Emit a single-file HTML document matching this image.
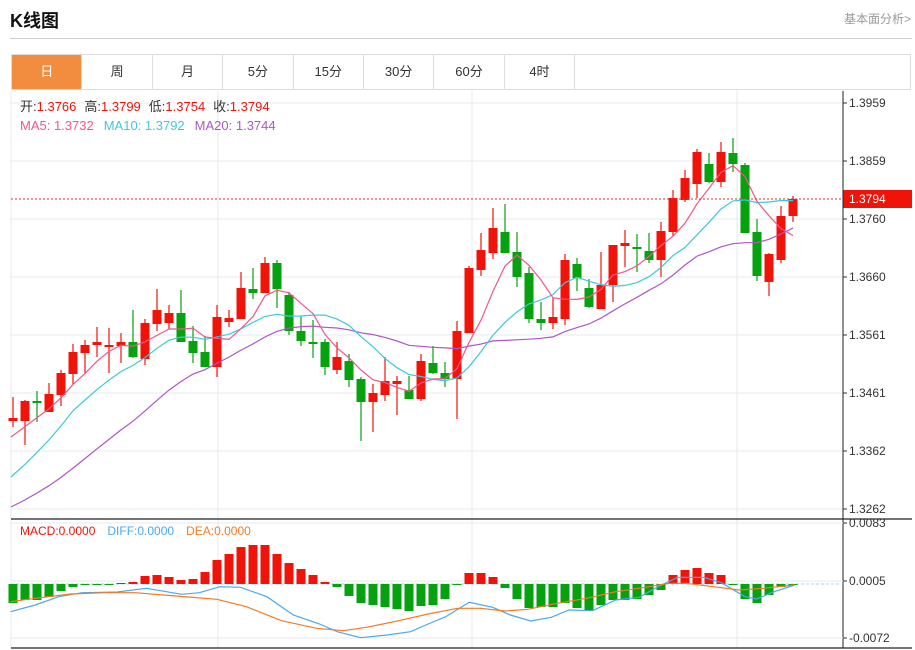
<!DOCTYPE html>
<html><head><meta charset="utf-8">
<style>
body{margin:0;background:#fff;width:915px;height:650px;overflow:hidden;font-family:"Liberation Sans","Noto Sans CJK SC",sans-serif;}
#wrap{position:relative;width:915px;height:650px;}
.title{position:absolute;left:10px;top:7px;font-size:18px;font-weight:bold;color:#111;}
.more{position:absolute;right:4px;top:10px;font-size:12px;color:#999;}
.hr{position:absolute;left:10px;top:38px;width:902px;height:1px;background:#ccc;}
.tabs{position:absolute;left:11px;top:54px;width:900px;height:36px;border:1px solid #ddd;box-sizing:border-box;display:flex;}
.tab{width:70.4px;height:34px;border-right:1px solid #ddd;box-sizing:border-box;text-align:center;line-height:34px;font-size:13px;color:#333;}
.tab.on{background:#f28c3f;color:#fff;}
svg{position:absolute;left:0;top:0;}
</style></head><body><div id="wrap">
<div class="title">K线图</div>
<div class="more">基本面分析&gt;</div>
<div class="hr"></div>
<div class="tabs"><div class="tab on">日</div><div class="tab">周</div><div class="tab">月</div><div class="tab">5分</div><div class="tab">15分</div><div class="tab">30分</div><div class="tab">60分</div><div class="tab">4时</div></div>
<svg id="s" width="915" height="650" xmlns="http://www.w3.org/2000/svg"></svg>
</div>
<script>
var S=document.getElementById('s'),h='';
function L(x1,y1,x2,y2,c,w,d){h+='<line x1="'+x1+'" y1="'+y1+'" x2="'+x2+'" y2="'+y2+'" stroke="'+c+'" stroke-width="'+(w||1)+'"'+(d?' stroke-dasharray="'+d+'"':'')+'/>';}
function T(x,y,t,c,s,a){h+='<text x="'+x+'" y="'+y+'" fill="'+c+'" font-size="'+(s||12)+'" font-family="Liberation Sans, Noto Sans CJK SC, sans-serif"'+(a?' text-anchor="'+a+'"':'')+'>'+t+'</text>';}
function P(pts,c,w){h+='<polyline fill="none" stroke="'+c+'" stroke-width="'+(w||1.2)+'" points="'+pts.map(function(p){return p[0].toFixed(1)+','+p[1].toFixed(1)}).join(' ')+'"/>';}
var ticks=[[103,'1.3959'],[161,'1.3859'],[219,'1.3760'],[277,'1.3660'],[335,'1.3561'],[393,'1.3461'],[451,'1.3362'],[509,'1.3262']];
ticks.forEach(function(t){L(11,t[0],843,t[0],'#e6ebf0');L(843,t[0],847,t[0],'#333');T(849,t[0]+4,t[1],'#333',12);});
[218,472,737].forEach(function(x){L(x,91,x,648,'#e6ebf0');});
L(11,91,11,648,'#e6ebf0');
var K=[[421,418,397,427],[421,401,400,445],[401,403,391,422],[412,394,383,412],[395,373,370,406],[374,352,344,384],[353,345,340,373],[345,342,327,357],[347,345,328,373],[346,342,333,363],[342,357,310,358],[359,323,319,365],[324,310,289,331],[323,313,305,329],[313,342,290,342],[341,353,326,363],[352,367,336,367],[367,317,305,377],[322,318,310,327],[319,288,272,319],[289,293,268,299],[293,263,257,293],[263,289,260,308],[295,331,292,335],[331,341,316,346],[342,344,320,358],[342,367,339,375],[370,357,342,374],[361,380,354,387],[379,402,377,441],[402,393,384,432],[395,381,357,401],[384,381,376,415],[390,399,376,399],[399,361,354,401],[363,373,346,374],[373,379,362,387],[379,331,321,419],[333,268,266,333],[270,250,233,276],[253,228,208,259],[232,253,204,253],[252,277,232,287],[273,319,267,323],[319,323,302,330],[323,317,298,329],[319,260,254,325],[264,278,258,291],[288,307,279,308],[309,285,252,309],[285,245,245,302],[246,243,230,267],[247,249,234,272],[251,260,233,263],[260,231,222,277],[232,198,190,236],[200,178,170,202],[184,152,149,198],[164,182,153,183],[182,152,142,187],[153,164,138,172],[165,233,163,233],[232,276,219,281],[282,254,253,296],[260,216,206,263],[216,199,196,222]];
var RED='#f0130a',GR='#06a10f';
K.forEach(function(k,i){var x=13+12*i,up=k[1]<k[0],c=up?RED:GR;L(x,k[2],x,k[3],c,1.2);var t=Math.min(k[0],k[1]),b=Math.max(k[0],k[1]);if(b-t<1.5){b=t+2;}h+='<rect x="'+(x-4.5)+'" y="'+t+'" width="9" height="'+(b-t)+'" fill="'+c+'"/>';});
var C=K.map(function(k){return k[1]});
var D=[10,20,30,35,85,95,100,105,110,112,114,116,118,119,120,121,122,123,125];
var pre=[];for(var k=19;k>=1;k--)pre.push(418+D[k-1]);var all=pre.concat(C);
function ma(n){var r=[];for(var i=0;i<C.length;i++){var j=i+19,s=0;for(var q=0;q<n;q++)s+=all[j-q];r.push([13+12*i,s/n]);}r[0][0]=11;return r;}
P(ma(20),'#b055c8');P(ma(10),'#3dc8dc');P(ma(5),'#f0578a');
L(11,199,843,199,'#e03030',1,'2,2');
h+='<rect x="843" y="190" width="69" height="18" fill="#f0130a"/>';T(849,203,'1.3794','#fff',12);
L(843,91,843,648,'#222');L(11,519,912,519,'#222',1.3);L(11,648,912,648,'#222',1.3);
h+='<text x="20" y="111" font-size="13" font-family="Liberation Sans, Noto Sans CJK SC, sans-serif"><tspan fill="#333">开:</tspan><tspan fill="#f0130a">1.3766</tspan><tspan fill="#333" dx="8">高:</tspan><tspan fill="#f0130a">1.3799</tspan><tspan fill="#333" dx="8">低:</tspan><tspan fill="#f0130a">1.3754</tspan><tspan fill="#333" dx="8">收:</tspan><tspan fill="#f0130a">1.3794</tspan></text>';
h+='<text x="20" y="130" font-size="13" font-family="Liberation Sans, Noto Sans CJK SC, sans-serif"><tspan fill="#f0578a">MA5: 1.3732</tspan><tspan fill="#3dc8dc" dx="10">MA10: 1.3792</tspan><tspan fill="#b055c8" dx="10">MA20: 1.3744</tspan></text>';
[[523,'0.0083'],[581,'0.0005'],[638,'-0.0072']].forEach(function(t){L(11,t[0],843,t[0],'#e6ebf0');L(843,t[0],847,t[0],'#333');T(849,t[0]+4,t[1],'#333',12);});
L(11,584,843,584,'#9fd8ea',1,'3,2');
var M=[603,600,600,597,591,587,585,585,585,583,582,576,575,577,580,579,572,560,554,547,545,545,554,563,569,575,582,587,596,603,605,607,609,611,606,605,599,585,573,573,577,588,599,608,607,607,603,608,611,605,600,600,599,595,590,575,570,568,573,575,585,599,603,595,587,585];
M.forEach(function(y,i){var x=13+12*i,c=y<584?RED:GR,t=Math.min(y,584),b=Math.max(y,584);if(b-t<1)b=t+1;h+='<rect x="'+(x-4.5)+'" y="'+t+'" width="9" height="'+(b-t)+'" fill="'+c+'"/>';});
function cv(a){return a.map(function(p){return [p[0]/1.705,500+p[1]/3]})}
P(cv([[18,335],[60,315],[100,290],[140,278],[200,276],[250,265],[310,283],[340,278],[375,260],[410,262],[455,290],[500,345],[545,372],[575,395],[615,413],[660,405],[700,395],[730,372],[760,350],[800,307],[840,322],[870,345],[905,363],[940,352],[970,330],[1010,332],[1050,300],[1090,292],[1120,262],[1155,232],[1200,232],[1230,248],[1270,290],[1290,297],[1320,275],[1355,255]]),'#4aa8f0');
P(cv([[18,305],[60,295],[120,282],[180,278],[230,278],[300,288],[370,298],[420,320],[480,362],[540,385],[585,392],[625,382],[680,362],[730,342],[780,325],[820,325],[860,333],[900,328],[950,310],[1000,295],[1050,275],[1100,262],[1140,250],[1170,250],[1230,263],[1260,270],[1300,265],[1355,255]]),'#f57a22');
h+='<text x="20" y="535" font-size="12" font-family="Liberation Sans, sans-serif"><tspan fill="#f0130a">MACD:0.0000</tspan><tspan fill="#4aa8f0" dx="12">DIFF:0.0000</tspan><tspan fill="#f57a22" dx="12">DEA:0.0000</tspan></text>';
S.innerHTML=h;
</script></body></html>
